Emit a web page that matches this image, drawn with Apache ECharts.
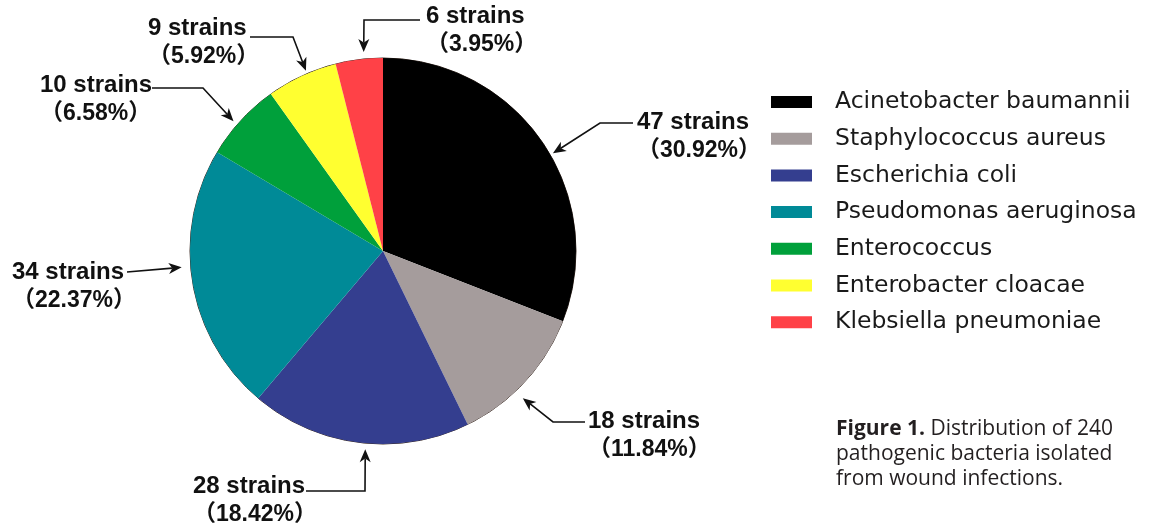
<!DOCTYPE html>
<html>
<head>
<meta charset="utf-8">
<script src="https://cdn.jsdelivr.net/npm/echarts@6/dist/echarts.min.js"></script>
<style>
  html, body { margin: 0; padding: 0; background: #fff; }
  #chart { width: 1156px; height: 529px; }
</style>
</head>
<body>
<div id="chart"></div>
<script>
// data
const species = ['Acinetobacter baumannii', 'Staphylococcus aureus', 'Escherichia coli',
  'Pseudomonas aeruginosa', 'Enterococcus', 'Enterobacter cloacae', 'Klebsiella pneumoniae'];
const strains = [47, 18, 28, 34, 10, 9, 6];
const colors = ['#000000', '#a59c9c', '#343e8f', '#008a97', '#00a03b', '#ffff30', '#ff4147'];

// callout layout (pixels): label top-left, line start beside text, elbow, where the head lands
const labelPos = [[637, 107.5], [588, 406.5], [193, 471.5], [12, 257.5], [40, 70.5], [148, 13.5], [426, 1.5]];
const arrowFrom = [[633, 123], [585, 422], [306, 491], [127, 272], [152, 88], [250, 37], [420, 20]];
const arrowElbow = [[600, 123], [553, 422], [365, 491], null, [203, 88], [293, 37], [364, 20]];
const tipFrac = [0.54, 0.59, 0.47, 0.56, 0.43, 0.58, 0.61];
const tipGap = [3, 10, 6, 9, 5, 3, 7];

const labelFont = "'Liberation Sans', 'Noto Sans CJK SC', sans-serif";

let chart = echarts.init(document.getElementById('chart'));
chart.setOption({
  animation: false,
  title: {
    left: 836,
    top: 417,
    padding: 0,
    text: '{b|Figure 1.} Distribution of 240\npathogenic bacteria isolated\nfrom wound infections.',
    textStyle: {
      fontFamily: 'Open Sans',
      fontSize: 21,
      fontWeight: 'normal',
      color: '#231f20',
      lineHeight: 25,
      rich: {
        b: { fontFamily: 'Open Sans', fontSize: 21, fontWeight: 'bold', color: '#231f20', lineHeight: 25 }
      }
    }
  },
  legend: {
    orient: 'vertical',
    left: 771,
    top: 90,
    padding: 0,
    icon: 'rect',
    itemWidth: 41,
    itemHeight: 12,
    itemGap: 12.7,
    selectedMode: false,
    textStyle: {
      fontFamily: "'DejaVu Sans'",
      fontSize: 23.5,
      lineHeight: 24,
      color: '#1a1a1a',
      padding: [0, 0, 0, 18]
    },
    data: species
  },
  series: [
    {
      type: 'pie',
      center: [383, 251],
      radius: 193,
      startAngle: 90,
      clockwise: true,
      avoidLabelOverlap: false,
      emphasis: { disabled: true },
      data: species.map((n, i) => ({ name: n, value: strains[i], itemStyle: { color: colors[i] } })),
      label: {
        show: true,
        formatter: p => '{n|' + p.value + ' strains}\n{p|（' + p.percent.toFixed(2) + '%）}',
        rich: {
          n: { fontFamily: labelFont, fontSize: 24, fontWeight: 'bold', color: '#111', lineHeight: 29 },
          p: { fontFamily: labelFont, fontSize: 23, fontWeight: 'bold', color: '#111', lineHeight: 29 }
        }
      },
      labelLine: { show: false },
      labelLayout: p => ({
        x: labelPos[p.dataIndex][0],
        y: labelPos[p.dataIndex][1],
        align: 'left',
        verticalAlign: 'top'
      })
    }
  ]
});

// outline and arrows, placed from the pie's own slice layout
let pieData = chart.getModel().getSeriesByIndex(0).getData();
let els = [];
let first = pieData.getItemLayout(0);
els.push({
  type: 'circle', silent: true,
  shape: { cx: first.cx, cy: first.cy, r: first.r },
  style: { fill: 'none', stroke: '#3a2a22', lineWidth: 1 }
});
strains.forEach((v, i) => {
  let L = pieData.getItemLayout(i);
  let a = L.startAngle + tipFrac[i] * (L.endAngle - L.startAngle);
  let R = L.r + tipGap[i];
  let tip = [L.cx + R * Math.cos(a), L.cy + R * Math.sin(a)];
  let pts = [arrowFrom[i]];
  if (arrowElbow[i]) pts.push(arrowElbow[i]);
  let prev = pts[pts.length - 1];
  let dx = tip[0] - prev[0], dy = tip[1] - prev[1];
  let len = Math.hypot(dx, dy), ux = dx / len, uy = dy / len;
  let hl = 13, hw = 5.5;
  let back = [tip[0] - ux * hl, tip[1] - uy * hl];
  let notch = [tip[0] - ux * hl * 0.72, tip[1] - uy * hl * 0.72];
  pts.push(notch);
  els.push({
    type: 'polyline', silent: true,
    shape: { points: pts },
    style: { stroke: '#111', lineWidth: 1.6, fill: null }
  });
  els.push({
    type: 'polygon', silent: true,
    shape: {
      points: [
        tip,
        [back[0] - uy * hw, back[1] + ux * hw],
        notch,
        [back[0] + uy * hw, back[1] - ux * hw]
      ]
    },
    style: { fill: '#111' }
  });
});
chart.setOption({ graphic: els });
</script>
</body>
</html>
